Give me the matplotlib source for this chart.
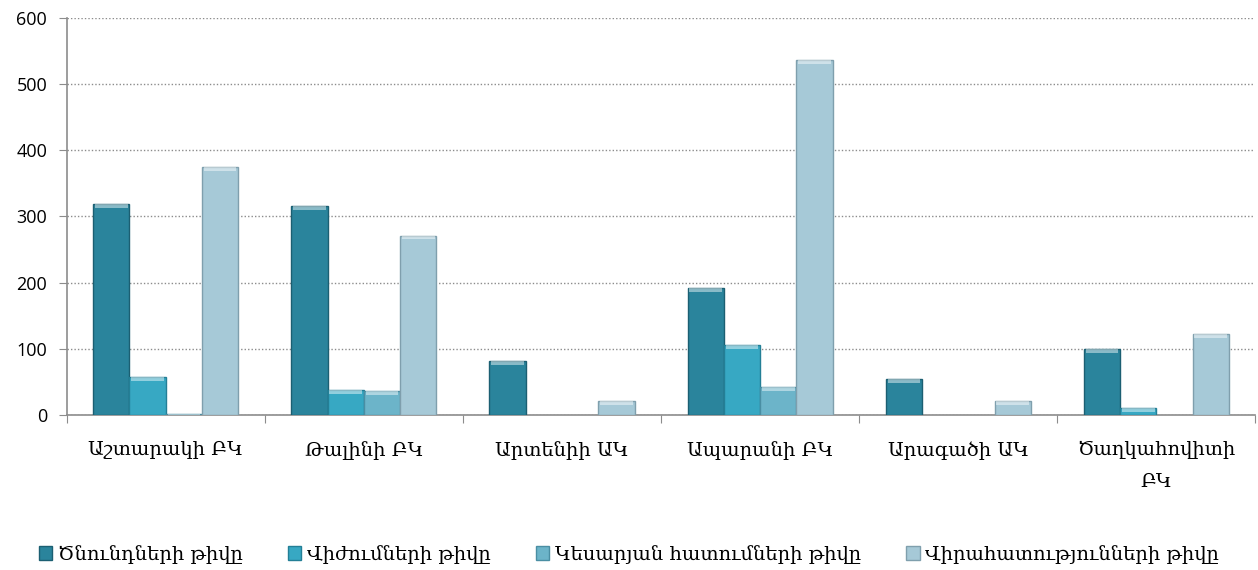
import numpy as np
import matplotlib
matplotlib.use('Agg')
import matplotlib.pyplot as plt
from matplotlib.patches import Patch

# data
regions = ['Աշտարակի ԲԿ', 'Թալինի ԲԿ', 'Արտենիի ԱԿ', 'Ապարանի ԲԿ', 'Արագածի ԱԿ', 'Ծաղկահովիտի\nԲԿ']
series_names = ['Ծնունդների թիվը', 'Վիժումների թիվը', 'Կեսարյան հատումների թիվը', 'Վիրահատությունների թիվը']
births = [318, 316, 82, 191, 54, 100]
abortions = [57, 38, 0, 105, 0, 10]
caesareans = [1, 36, 0, 42, 0, 0]
surgeries = [375, 271, 21, 536, 21, 122]
yticks = [0, 100, 200, 300, 400, 500, 600]

colors = ['#2a849c', '#37a8c3', '#6cb4c9', '#a6c9d7']
edges = ['#1b5f72', '#237f96', '#4a8ea3', '#7f9fad']
txtfont = ['DejaVu Serif', 'DejaVu Sans']

fig = plt.figure(figsize=(12.58, 5.70), dpi=100)
ax = fig.add_axes([0.053, 0.272, 0.945, 0.697])

x = np.arange(len(regions))
w = 0.183
allvals = [births, abortions, caesareans, surgeries]
for k, vals in enumerate(allvals):
    pos = x + (k - 1.5) * w
    lw = [1.0 if v > 0 else 0 for v in vals]
    ax.bar(pos, vals, width=w, color=colors[k], edgecolor=edges[k], linewidth=lw, zorder=3)
    # light strip on top to fake the bevel look
    cap = [min(v, 6) for v in vals]
    bottoms = [v - c for v, c in zip(vals, cap)]
    ax.bar(pos, cap, width=w * 0.9, bottom=bottoms, color='white', alpha=0.45, linewidth=0, zorder=4)

ax.set_xlim(-0.5, len(regions) - 0.5)
ax.set_ylim(0, 600)
ax.set_yticks(yticks)
ax.set_yticklabels([str(t) for t in yticks], fontsize=13, family='Open Sans')
ax.yaxis.grid(True, linestyle=(0, (1, 1.5)), color='#8c8c8c', linewidth=1.0, zorder=0)

ax.set_xticks(np.arange(len(regions) + 1) - 0.5)
ax.set_xticklabels([])
ax.tick_params(axis='x', length=6, color='#8c8c8c', direction='out')
ax.tick_params(axis='y', length=6, color='#8c8c8c', direction='out', pad=8)
for i, name in enumerate(regions):
    ax.text(i, -0.065, name, transform=ax.get_xaxis_transform(), ha='center', va='top',
            fontsize=14, family=txtfont, linespacing=2.0)

for s in ['top', 'right']:
    ax.spines[s].set_visible(False)
for s in ['left', 'bottom']:
    ax.spines[s].set_color('#8c8c8c')
    ax.spines[s].set_linewidth(1.2)

handles = [Patch(facecolor=colors[k], edgecolor=edges[k]) for k in range(4)]
fig.legend(handles, series_names, loc='lower center', ncol=4, frameon=False,
           bbox_to_anchor=(0.5, -0.02), handlelength=0.7, handleheight=0.7,
           handletextpad=0.3, columnspacing=2.3, prop={'family': txtfont, 'size': 14})

fig.savefig('out.png', dpi=100)
